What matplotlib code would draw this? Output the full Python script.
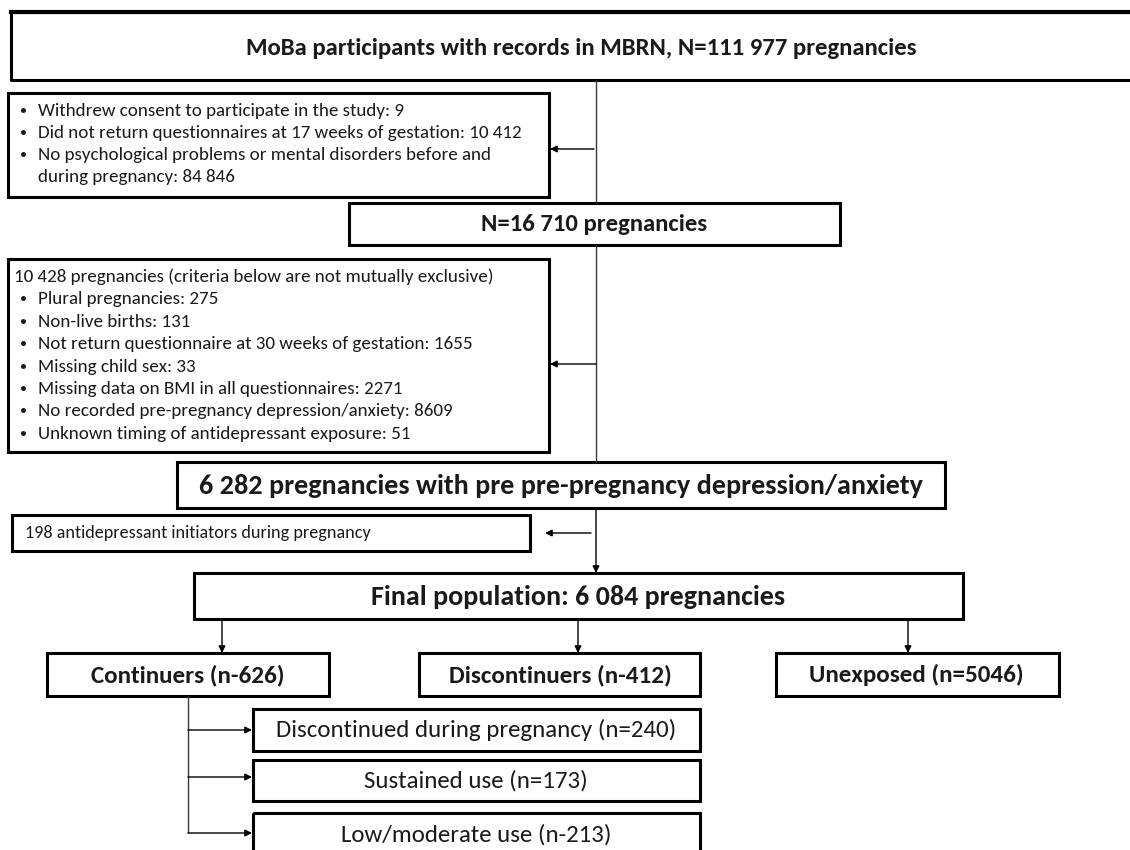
import matplotlib
matplotlib.use("Agg")
import matplotlib.pyplot as plt
from matplotlib.patches import Rectangle
from matplotlib import font_manager

# ---------------- data (texts / counts) ----------------
title_text = "MoBa participants with records in MBRN, N=111 977 pregnancies"
excl1_lines = ["Withdrew consent to participate in the study: 9",
               "Did not return questionnaires at 17 weeks of gestation: 10 412",
               "No psychological problems or mental disorders before and",
               "during pregnancy: 84 846"]
excl1_bullets = [True, True, True, False]
step2_text = "N=16 710 pregnancies"
excl2_header = "10 428 pregnancies (criteria below are not mutually exclusive)"
excl2_lines = ["Plural pregnancies: 275",
               "Non-live births: 131",
               "Not return questionnaire at 30 weeks of gestation: 1655",
               "Missing child sex: 33",
               "Missing data on BMI in all questionnaires: 2271",
               "No recorded pre-pregnancy depression/anxiety: 8609",
               "Unknown timing of antidepressant exposure: 51"]
step3_text = "6 282 pregnancies with pre pre-pregnancy depression/anxiety"
excl3_text = "198 antidepressant initiators during pregnancy"
final_text = "Final population: 6 084 pregnancies"
group_labels = ["Continuers (n-626)", "Discontinuers (n-412)", "Unexposed (n=5046)"]
sub_labels = ["Discontinued during pregnancy (n=240)", "Sustained use (n=173)",
              "Low/moderate use (n-213)"]

# ---------------- layout (pixels) ----------------
W, H = 1130, 850
available = {f.name for f in font_manager.fontManager.ttflist}
FONT = "DejaVu Sans"
for cand in ["Carlito", "Lato", "Open Sans", "DejaVu Sans"]:
    if cand in available:
        FONT = cand
        break

fig = plt.figure(figsize=(W / 100, H / 100), dpi=100)
ax = fig.add_axes([0, 0, 1, 1])
ax.set_xlim(0, W)
ax.set_ylim(H, 0)
ax.axis("off")
renderer = fig.canvas.get_renderer()

BOX_LW = 2.2
THIN = 1.0
LINE_C = "#3a3a3a"
TXT_C = "#1a1a1a"


def fit(text, width, weight="normal"):
    t = ax.text(0, 0, text, fontsize=10, fontweight=weight, family=FONT)
    w = t.get_window_extent(renderer).width
    t.remove()
    return 10 * width / w


def box(x0, y0, x1, y1, lw=BOX_LW):
    ax.add_patch(Rectangle((x0, y0), x1 - x0, y1 - y0, fill=False,
                           edgecolor="black", lw=lw, joinstyle="miter"))


def arrow(x0, y0, x1, y1):
    ax.annotate("", xy=(x1, y1), xytext=(x0, y0),
                arrowprops=dict(arrowstyle="-|>", color="black", lw=THIN,
                                mutation_scale=10, shrinkA=0, shrinkB=0))


def line(xs, ys):
    ax.plot(xs, ys, color=LINE_C, lw=THIN, solid_capstyle="butt")


# sizes
s_title = fit(title_text, 671, "bold")
s_body = fit(excl2_lines[2], 435)
s_step3 = fit(step3_text, 723, "bold")
s_excl3 = fit("198 antidepressant initiators during pre", 295)
s_final = fit(final_text, 414, "bold")
s_group = fit(group_labels[1], 223, "bold")
s_sub = fit(sub_labels[0], 401)


def bullet(x, y):
    ax.text(x, y, "\u2022", fontsize=s_body * 0.75, family=FONT, color=TXT_C,
            ha="left", va="center")


# ---- top box (right edge runs off the page) ----
ax.plot([1140, 11, 11, 1140], [12, 12, 80, 80], color="black", lw=BOX_LW)
ax.plot([11, 1140], [12, 12], color="black", lw=3.0)
ax.text(581, 48, title_text, fontsize=s_title, fontweight="bold", family=FONT,
        color=TXT_C, ha="center", va="center")

# main vertical line
MX = 596
line([MX, MX], [80, 203])
line([MX, MX], [245, 462])
arrow(MX, 508, MX, 573)

# ---- exclusion box 1 ----
box(8, 93, 549, 197)
for i, (txt, b) in enumerate(zip(excl1_lines, excl1_bullets)):
    y = 111 + i * 22
    if b:
        bullet(20, y)
    ax.text(38, y, txt, fontsize=s_body, family=FONT, color=TXT_C,
            ha="left", va="center")
arrow(594, 149, 550, 149)

# ---- N = 16 710 ----
box(349, 203, 840, 245)
ax.text(594, 224, step2_text, fontsize=s_title, fontweight="bold", family=FONT,
        color=TXT_C, ha="center", va="center")

# ---- exclusion box 2 ----
box(8, 259, 549, 452)
ax.text(14, 277, excl2_header, fontsize=s_body, family=FONT, color=TXT_C,
        ha="left", va="center")
for i, txt in enumerate(excl2_lines):
    y = 277 + (i + 1) * 22.4
    bullet(20, y)
    ax.text(38, y, txt, fontsize=s_body, family=FONT, color=TXT_C,
            ha="left", va="center")
arrow(596, 364, 550, 364)

# ---- 6 282 box ----
box(177, 462, 945, 508)
ax.text(561, 486, step3_text, fontsize=s_step3, fontweight="bold", family=FONT,
        color=TXT_C, ha="center", va="center")

# ---- exclusion box 3 ----
box(12, 515, 530, 551)
ax.text(25, 533, excl3_text, fontsize=s_excl3, family=FONT, color=TXT_C,
        ha="left", va="center")
arrow(591, 533, 545, 533)

# ---- final population ----
box(194, 573, 963, 619)
ax.text(578, 597, final_text, fontsize=s_final, fontweight="bold", family=FONT,
        color=TXT_C, ha="center", va="center")

# ---- groups ----
group_boxes = [(47, 329), (419, 700), (776, 1059)]
group_arrow_x = [222, 578, 908]
group_text_x = [188, 560, 916]
for (x0, x1), gx, tx, lab in zip(group_boxes, group_arrow_x, group_text_x, group_labels):
    arrow(gx, 619, gx, 653)
    box(x0, 653, x1, 696)
    ax.text(tx, 675, lab, fontsize=s_group, fontweight="bold", family=FONT,
            color=TXT_C, ha="center", va="center")

# ---- continuers sub-groups ----
BX = 188
line([BX, BX], [696, 833])
sub_boxes = [(709, 751), (760, 801), (813, 858)]
sub_arrow_y = [730, 777, 833]
sub_text_y = [730, 781, 835]
for (y0, y1), ay, ty, lab in zip(sub_boxes, sub_arrow_y, sub_text_y, sub_labels):
    arrow(BX, ay, 252, ay)
    box(253, y0, 700, y1)
    ax.text(476, ty, lab, fontsize=s_sub, family=FONT, color=TXT_C,
            ha="center", va="center")

fig.savefig("out.png", dpi=100)
